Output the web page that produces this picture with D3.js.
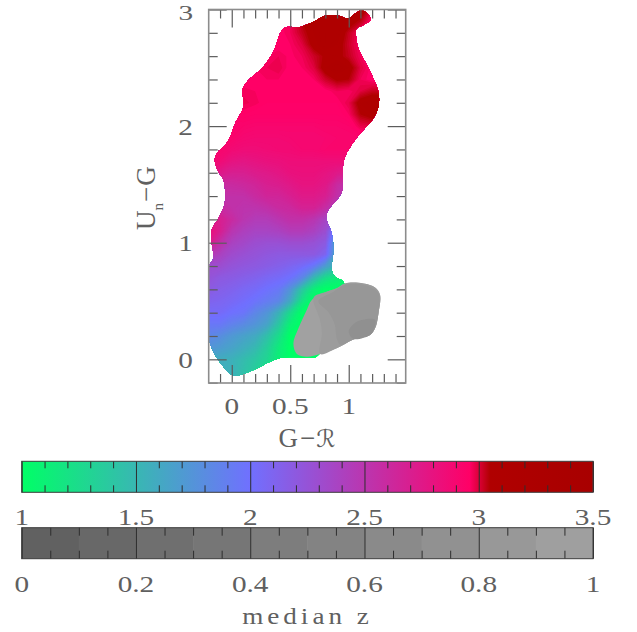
<!DOCTYPE html>
<html><head><meta charset="utf-8">
<style>html,body{margin:0;padding:0;background:#fff}svg{display:block}
text{font-family:"Liberation Serif",serif;fill:#606060;font-size:24px}</style>
<script src="https://cdn.jsdelivr.net/npm/d3@7"></script></head><body>
<script>
// ---- data ----
const gridX=[-0.2,-0.1,0,0.1,0.2,0.3,0.4,0.5,0.6,0.7,0.8,0.9,1.0,1.1,1.2,1.3,1.4];
const gridY=[3.0,2.9,2.8,2.7,2.6,2.5,2.4,2.3,2.2,2.1,2.0,1.9,1.8,1.7,1.6,1.5,1.4,1.3,1.2,1.1,1.0,0.9,0.8,0.7,0.6,0.5,0.4,0.3,0.2,0.1,0,-0.1,-0.2];
const medianColor=[
[2.96,2.96,2.96,2.96,2.96,2.96,2.96,2.97,3.02,3.07,3.10,3.10,3.08,3.10,3.00,2.96,2.96],
[2.96,2.96,2.96,2.96,2.96,2.96,2.96,2.98,3.05,3.09,3.10,3.10,3.08,3.04,2.96,2.96,2.96],
[2.96,2.96,2.96,2.96,2.96,2.96,2.96,2.98,3.03,3.08,3.10,3.10,3.03,2.97,2.96,2.96,2.96],
[2.96,2.96,2.96,2.96,2.96,2.96,2.96,2.97,3.00,3.07,3.10,3.08,3.02,2.97,2.96,2.96,2.96],
[2.96,2.96,2.96,2.96,2.96,2.97,2.98,2.965,2.98,3.02,3.06,3.07,3.03,2.98,2.96,2.96,2.96],
[2.96,2.96,2.96,2.96,2.97,2.98,2.99,2.96,2.97,3.00,3.08,3.10,3.08,3.00,2.96,2.96,2.96],
[2.96,2.96,2.96,2.96,2.965,2.97,2.97,2.96,2.96,2.97,3.02,3.06,3.05,2.98,2.96,2.96,2.96],
[2.96,2.96,2.96,2.975,2.97,2.96,2.96,2.96,2.96,2.96,2.96,2.98,2.97,3.00,3.03,3.03,2.96],
[2.96,2.96,2.96,2.985,2.975,2.96,2.96,2.96,2.96,2.96,2.96,2.96,2.99,3.08,3.10,3.10,3.00],
[2.95,2.95,2.95,2.96,2.95,2.95,2.95,2.95,2.95,2.95,2.95,2.95,2.97,3.05,3.08,3.06,3.00],
[2.93,2.93,2.93,2.93,2.92,2.92,2.92,2.92,2.92,2.92,2.93,2.93,2.94,2.99,3.00,2.99,2.96],
[2.93,2.93,2.93,2.90,2.89,2.89,2.89,2.90,2.90,2.90,2.91,2.92,2.92,2.93,2.93,2.93,2.93],
[2.93,2.92,2.88,2.86,2.86,2.87,2.88,2.88,2.90,2.90,2.92,2.92,2.92,2.92,2.92,2.92,2.92],
[2.90,2.87,2.80,2.78,2.80,2.82,2.83,2.85,2.85,2.85,2.85,2.85,2.85,2.85,2.85,2.85,2.85],
[2.80,2.75,2.70,2.70,2.73,2.75,2.78,2.82,2.83,2.83,2.80,2.75,2.70,2.70,2.70,2.70,2.70],
[2.65,2.60,2.60,2.62,2.65,2.70,2.72,2.76,2.80,2.80,2.76,2.60,2.50,2.50,2.50,2.50,2.50],
[2.55,2.55,2.55,2.55,2.60,2.65,2.65,2.70,2.75,2.75,2.70,2.55,2.40,2.40,2.40,2.40,2.40],
[2.70,2.60,2.55,2.52,2.52,2.55,2.60,2.62,2.68,2.68,2.58,2.40,2.30,2.30,2.30,2.30,2.30],
[2.80,2.70,2.60,2.50,2.45,2.45,2.50,2.55,2.55,2.50,2.38,2.20,2.00,2.00,2.00,2.00,2.00],
[2.85,2.70,2.50,2.42,2.38,2.38,2.40,2.45,2.45,2.40,2.30,1.85,1.80,1.80,1.80,1.80,1.80],
[2.75,2.55,2.40,2.35,2.30,2.28,2.28,2.30,2.30,2.27,2.20,1.60,1.60,1.60,1.60,1.60,1.60],
[2.50,2.40,2.32,2.28,2.25,2.22,2.20,2.20,2.20,2.20,2.10,1.60,1.60,1.60,1.60,1.60,1.60],
[2.30,2.30,2.25,2.22,2.20,2.17,2.14,2.10,2.05,1.95,1.70,1.50,1.40,1.40,1.40,1.40,1.40],
[2.25,2.20,2.18,2.15,2.12,2.08,2.05,2.00,1.85,1.50,1.25,1.15,1.10,1.10,1.10,1.10,1.10],
[2.20,2.15,2.12,2.08,2.05,2.00,1.95,1.75,1.40,1.12,1.00,1.00,1.00,1.00,1.00,1.00,1.00],
[2.12,2.10,2.07,2.03,1.98,1.92,1.85,1.60,1.20,1.00,1.00,1.00,1.00,1.00,1.00,1.00,1.00],
[2.05,2.05,2.00,1.97,1.85,1.75,1.55,1.25,1.00,1.00,1.00,1.00,1.00,1.00,1.00,1.00,1.00],
[1.95,1.95,1.88,1.82,1.75,1.65,1.40,1.10,1.00,1.00,1.00,1.00,1.00,1.00,1.00,1.00,1.00],
[1.85,1.80,1.72,1.66,1.60,1.45,1.25,1.00,1.00,1.00,1.00,1.00,1.00,1.00,1.00,1.00,1.00],
[1.75,1.70,1.65,1.58,1.50,1.35,1.15,1.00,1.00,1.00,1.00,1.00,1.00,1.00,1.00,1.00,1.00],
[1.62,1.58,1.55,1.48,1.40,1.30,1.12,1.00,1.00,1.00,1.00,1.00,1.00,1.00,1.00,1.00,1.00],
[1.60,1.58,1.55,1.45,1.35,1.22,1.05,1.00,1.00,1.00,1.00,1.00,1.00,1.00,1.00,1.00,1.00],
[1.60,1.58,1.55,1.45,1.35,1.22,1.05,1.00,1.00,1.00,1.00,1.00,1.00,1.00,1.00,1.00,1.00]];
const outline=[[1.111,2.994],[1.168,2.96],[1.188,2.909],[1.125,2.866],[1.068,2.837],[1.063,2.766],[1.083,2.666],[1.14,2.551],[1.211,2.409],[1.254,2.294],[1.254,2.166],[1.211,2.066],[1.125,1.966],[1.054,1.88],[0.969,1.737],[0.946,1.594],[0.946,1.451],[0.897,1.366],[0.84,1.3],[0.812,1.251],[0.812,1.194],[0.855,1.08],[0.869,0.937],[0.855,0.766],[0.883,0.709],[0.954,0.666],[0.95,0.4],[0.72,0.02],[0.655,0.017],[0.5,0.017],[0.442,0.017],[0.328,-0.02],[0.185,-0.091],[0.043,-0.14],[0,-0.134],[-0.071,-0.063],[-0.142,0.037],[-0.185,0.137],[-0.197,0.223],[-0.197,0.5],[-0.197,0.794],[-0.157,0.866],[-0.171,0.994],[-0.171,1.109],[-0.114,1.209],[-0.063,1.323],[-0.057,1.451],[-0.071,1.537],[-0.123,1.623],[-0.145,1.709],[-0.128,1.766],[-0.057,1.837],[-0.014,1.909],[0.028,2.023],[0.1,2.166],[0.094,2.323],[0.157,2.409],[0.256,2.494],[0.356,2.637],[0.413,2.794],[0.456,2.846],[0.584,2.851],[0.698,2.894],[0.798,2.946],[0.912,2.946],[0.997,2.923],[1.054,2.966]];
const medianGreyValues=[0.99,0.91,0.84,0.74];
const greyOuter=[[0.969,0.651],[1.125,0.651],[1.225,0.617],[1.268,0.551],[1.254,0.394],[1.225,0.266],[1.182,0.209],[1.04,0.171],[0.897,0.094],[0.755,0.046],[0.641,0.023],[0.556,0.046],[0.527,0.137],[0.57,0.266],[0.641,0.423],[0.684,0.509],[0.812,0.58],[0.897,0.609]];
const greyBand2=[[0.70,0.53],[0.755,0.337],[0.77,0.22],[0.755,0.046],[0.897,0.094],[1.04,0.171],[1.182,0.209],[1.225,0.266],[1.254,0.394],[1.268,0.551],[1.225,0.617],[1.125,0.651],[0.969,0.651],[0.897,0.609],[0.812,0.58]];
const greyBand3=[[0.74,0.50],[0.83,0.40],[0.88,0.30],[0.90,0.17],[0.93,0.125],[1.04,0.171],[1.182,0.209],[1.225,0.266],[1.254,0.394],[1.26,0.55],[1.22,0.6],[1.12,0.64],[0.97,0.64],[0.87,0.58]];
const greyBand4=[[1.0,0.24],[1.05,0.31],[1.12,0.34],[1.225,0.34],[1.21,0.25],[1.182,0.209],[1.04,0.175]];
const greyBands=[greyOuter,greyBand2,greyBand3,greyBand4];
const xMajor=[0,0.5,1], xMinor=[-0.1,0.1,0.2,0.3,0.4,0.6,0.7,0.8,0.9,1.1,1.2,1.3,1.4];
const yMajor=[0,1,2,3], yMinor=[-0.2,0.2,0.4,0.6,0.8,1.2,1.4,1.6,1.8,2.2,2.4,2.6,2.8];
const xLabels=["0","0.5","1"], yLabels=["0","1","2","3"];
const barAMajor=[1,1.5,2,2.5,3,3.5], barAMinor=[1.1,1.2,1.3,1.4,1.6,1.7,1.8,1.9,2.1,2.2,2.3,2.4,2.6,2.7,2.8,2.9,3.1,3.2,3.3,3.4];
const barALabels=["1","1.5","2","2.5","3","3.5"];
const barBMajor=[0,0.2,0.4,0.6,0.8,1], barBMinor=[0.05,0.1,0.15,0.25,0.3,0.35,0.45,0.5,0.55,0.65,0.7,0.75,0.85,0.9,0.95];
const barBLabels=["0","0.2","0.4","0.6","0.8","1"];
const barBSteps=[0,0.1,0.2,0.3,0.4,0.5,0.6,0.7,0.8,0.9];
const colorStops=[1,2,2.96,3.05,3.5], colorValues=["#00ff66","#7070ff","#ff0066","#b00000","#a80000"];

// ---- scales ----
const W=637,H=632;
const svg=d3.select("body").append("svg").attr("width",W).attr("height",H);
const L=208.7,R=405.7,T=9.5,B=383;
const x=d3.scaleLinear().domain([-0.197,1.487]).range([L,R]);
const y=d3.scaleLinear().domain([-0.203,3]).range([B,T]);
const color=d3.scaleLinear().domain(colorStops).range(colorValues).clamp(true);
const grey=d3.scaleLinear().domain([0,1]).range(["#5e5e5e","#a2a2a2"]);
const polyLine=d3.line().x(d=>x(d[0])).y(d=>y(d[1])).curve(d3.curveCatmullRomClosed.alpha(0.5));

// ---- field ----
const defs=svg.append("defs");
defs.append("clipPath").attr("id","shape").append("path").attr("d",polyLine(outline));
defs.append("clipPath").attr("id","frame").append("rect").attr("x",L).attr("y",T).attr("width",R-L).attr("height",B-T);
const nx=gridX.length,ny=gridY.length;
const values=medianColor.flat();
const thresholds=d3.range(0.9,3.14,0.01);
const contours=d3.contours().size([nx,ny]).thresholds(thresholds)(values);
const gx=d3.scaleLinear().domain([0.5,nx-0.5]).range([gridX[0],gridX[nx-1]]);
const gy=d3.scaleLinear().domain([0.5,ny-0.5]).range([gridY[0],gridY[ny-1]]);
const geo=d3.geoPath(d3.geoTransform({point(a,b){this.stream.point(x(gx(a)),y(gy(b)));}}));
const field=svg.append("g").attr("clip-path","url(#frame)").append("g").attr("clip-path","url(#shape)");
field.selectAll("path").data(contours).join("path").attr("d",geo).attr("fill",d=>color(d.value));
const gGrey=svg.append("g").attr("clip-path","url(#frame)");
gGrey.selectAll("path").data(greyBands).join("path").attr("d",polyLine)
  .attr("fill",(d,i)=>grey(medianGreyValues[i]));

// ---- axes ----
const tickCol="#5c5c5c";
function styleAxis(g,w){g.select(".domain").remove();g.selectAll("line").attr("stroke",tickCol).attr("stroke-width",w||1.2);g.selectAll("text").remove();}
function ax(gen,tx,ty,scale,vals,len){svg.append("g").attr("transform",`translate(${tx},${ty})`).call(gen(scale).tickValues(vals).tickSize(len)).call(styleAxis);}
ax(d3.axisBottom,0,B,x,xMajor,-18);ax(d3.axisBottom,0,B,x,xMinor,-9);
ax(d3.axisTop,0,T,x,xMajor,-18);ax(d3.axisTop,0,T,x,xMinor,-9);
ax(d3.axisLeft,L,0,y,yMajor,-18);ax(d3.axisLeft,L,0,y,yMinor,-9);
ax(d3.axisRight,R,0,y,yMajor,-18);ax(d3.axisRight,R,0,y,yMinor,-9);
svg.append("rect").attr("x",L).attr("y",T).attr("width",R-L).attr("height",B-T).attr("fill","none").attr("stroke","#8c8c8c").attr("stroke-width",1.6);

function label(px,py,str,anchor){return svg.append("text").attr("transform",`translate(${px},${py}) scale(1.22,1)`).attr("text-anchor",anchor||"middle").text(str);}
xMajor.forEach((v,i)=>label(x(v),413.5,xLabels[i]));
// the top label sits hard against the page edge, so it is set a little smaller
yMajor.forEach((v,i)=>{const t=label(193,Math.max(y(v)+8.5,20),yLabels[i],"end"); if(v===3) t.style("font-size","22px").attr("transform",`translate(193,20) scale(1.33,1)`);});

// axis titles
svg.append("text").attr("x",307.5).attr("y",447).attr("text-anchor","middle").style("font-size","27px").style("letter-spacing","1px")
  .html('G<tspan dx="1">−</tspan><tspan style="font-family:\'DejaVu Sans\';font-style:italic;font-size:24px">ℛ</tspan>');
const yt=svg.append("text").attr("transform","translate(155,230) rotate(-90)");
yt.append("tspan").text("U").style("font-size","27px");
yt.append("tspan").text("n").attr("dy",8).style("font-size","15px");
yt.append("tspan").text("−").attr("dy",-8).attr("dx",1).style("font-size","27px");
yt.append("tspan").text("G").attr("dx",1).style("font-size","27px");

// ---- colour bars ----
const bx=d3.scaleLinear().domain([1,3.5]).range([21.7,593]);
const bz=d3.scaleLinear().domain([0,1]).range([21.7,593]);
const A={t:461.3,b:492.3},C={t:527.7,b:558.7};
const grad=defs.append("linearGradient").attr("id","cbar").attr("gradientUnits","userSpaceOnUse")
  .attr("x1",bx(1)).attr("x2",bx(3.5)).attr("y1",0).attr("y2",0);
colorStops.forEach((s,i)=>grad.append("stop").attr("offset",(s-1)/2.5).attr("stop-color",colorValues[i]));
svg.append("rect").attr("x",bx(1)).attr("y",A.t).attr("width",bx(3.5)-bx(1)).attr("height",A.b-A.t).attr("fill","url(#cbar)");
svg.append("g").selectAll("rect").data(barBSteps).join("rect")
  .attr("x",d=>bz(d)).attr("y",C.t).attr("width",bz(0.1)-bz(0)+0.5).attr("height",C.b-C.t).attr("fill",d=>grey(d+0.05));
function barTicks(scale,box,major,minor,minorLen){
  const h=box.b-box.t;
  [[d3.axisBottom,box.t],[d3.axisTop,box.b]].forEach(([gen,py])=>{
    svg.append("g").attr("transform",`translate(0,${py})`).call(gen(scale).tickValues(minor).tickSize(minorLen))
      .call(g=>{g.select(".domain").remove();g.selectAll("text").remove();g.selectAll("line").attr("stroke","#2e2e2e").attr("stroke-width",1);});
  });
  svg.append("g").attr("transform",`translate(0,${box.t})`).call(d3.axisBottom(scale).tickValues(major).tickSize(h))
    .call(g=>{g.select(".domain").remove();g.selectAll("text").remove();g.selectAll("line").attr("stroke","#2e2e2e").attr("stroke-width",1);});
  svg.append("rect").attr("x",scale.range()[0]).attr("y",box.t).attr("width",scale.range()[1]-scale.range()[0]).attr("height",h)
    .attr("fill","none").attr("stroke","#3c3c3c").attr("stroke-width",1);
}
barTicks(bx,A,barAMajor,barAMinor,7);
barTicks(bz,C,barBMajor,barBMinor,8);
barAMajor.forEach((v,i)=>label(bx(v),525,barALabels[i]));
barBMajor.forEach((v,i)=>label(bz(v),591.5,barBLabels[i]));
svg.append("text").attr("transform","translate(307.5,624) scale(1.18,1)").attr("text-anchor","middle").style("font-size","23px").style("letter-spacing","3.4px").text("median z");
</script></body></html>
